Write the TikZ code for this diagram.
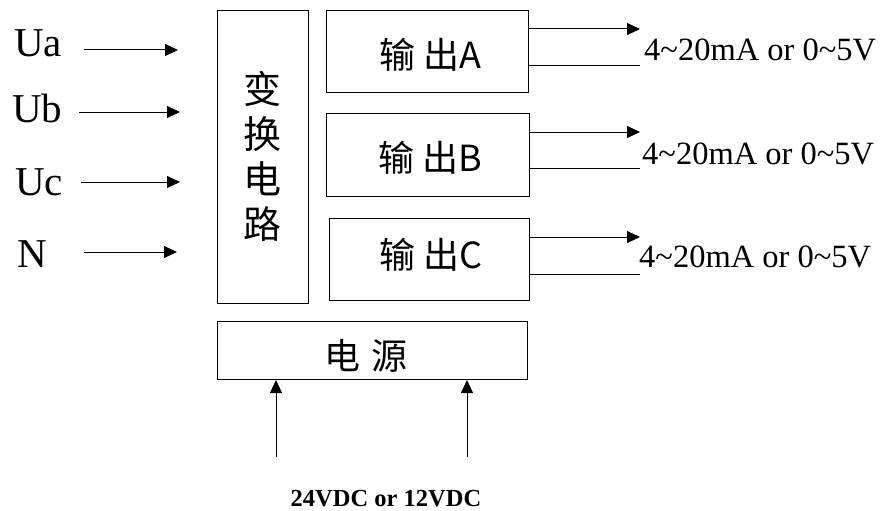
\documentclass[tikz,border=0pt]{standalone}
\usepackage{fontspec}
\setmainfont{Liberation Serif}
\newfontfamily\cjk{Noto Sans CJK SC}
\usetikzlibrary{arrows.meta}
\begin{document}
\begin{tikzpicture}[x=1pt,y=-1pt,
  box/.style={draw,line width=1pt,anchor=north west,inner sep=0pt},
  cn/.style={font=\cjk\fontsize{36}{40}\selectfont,inner sep=0pt},
  lab/.style={font=\fontsize{41}{44}\selectfont,inner sep=0pt,anchor=base west},
  outlab/.style={font=\fontsize{32.5}{36}\selectfont,inner sep=0pt,anchor=base west},
  arr/.style={line width=1pt,-{Triangle[length=13pt,width=12pt]}},
  ln/.style={line width=1pt}]
\useasboundingbox (0,0) rectangle (886,511);
% main conversion box
\node[box,minimum width=91pt,minimum height=293pt] (conv) at (217,10) {};
\node[cn,font=\cjk\fontsize{38}{40}\selectfont,align=center] (convt) at (262,156) {变\\[5pt]换\\[5pt]电\\[5pt]路};
% output boxes
\node[box,minimum width=202pt,minimum height=82pt] (oA) at (326,10) {};
\node[cn] (oAt) at (430,55) {输\hspace{8pt}出A};
\node[box,minimum width=203pt,minimum height=83pt] (oB) at (326,113) {};
\node[cn] (oBt) at (430,158) {输\hspace{8pt}出B};
\node[box,minimum width=200pt,minimum height=82pt] (oC) at (329,218) {};
\node[cn] (oCt) at (431,255) {输\hspace{8pt}出C};
% power box
\node[box,minimum width=310pt,minimum height=58pt] (pw) at (217,321) {};
\node[cn] (pwt) at (366,356) {电\hspace{12pt}源};
% inputs
\node[lab] (lUa) at (14,57) {Ua};
\node[lab] (lUb) at (12,122) {Ub};
\node[lab] (lUc) at (15,195) {Uc};
\node[lab] (lN) at (17,267) {N};
\coordinate (sUa) at (84,50);  \coordinate (eUa) at (178,50);
\coordinate (sUb) at (79,112); \coordinate (eUb) at (180,112);
\coordinate (sUc) at (81,182); \coordinate (eUc) at (180,182);
\coordinate (sN) at (84,252);  \coordinate (eN) at (177,252);
\draw[arr] (sUa) -- (eUa);
\draw[arr] (sUb) -- (eUb);
\draw[arr] (sUc) -- (eUc);
\draw[arr] (sN) -- (eN);
% outputs
\coordinate (tA) at (640,29);  \coordinate (bA) at (640,66);
\coordinate (tB) at (640,132); \coordinate (bB) at (640,168);
\coordinate (tC) at (640,237); \coordinate (bC) at (640,274);
\draw[arr] (oA.east |- tA) -- (tA);
\draw[ln] (oA.east |- bA) -- (bA);
\draw[arr] (oB.east |- tB) -- (tB);
\draw[ln] (oB.east |- bB) -- (bB);
\draw[arr] (oC.east |- tC) -- (tC);
\draw[ln] (oC.east |- bC) -- (bC);
\node[outlab] (rA) at (644,60) {4\char"007E 20mA or 0\char"007E 5V};
\node[outlab] (rB) at (642,164) {4\char"007E 20mA or 0\char"007E 5V};
\node[outlab] (rC) at (639,267) {4\char"007E 20mA or 0\char"007E 5V};
% power inputs
\coordinate (p1) at (276,457); \coordinate (p2) at (467,457);
\draw[arr] (p1) -- (p1 |- pw.south);
\draw[arr] (p2) -- (p2 |- pw.south);
\node[font=\bfseries\fontsize{24.5}{30}\selectfont,inner sep=0pt,anchor=base] (vdc) at (386,506) {24VDC or 12VDC};
\end{tikzpicture}
\end{document}
